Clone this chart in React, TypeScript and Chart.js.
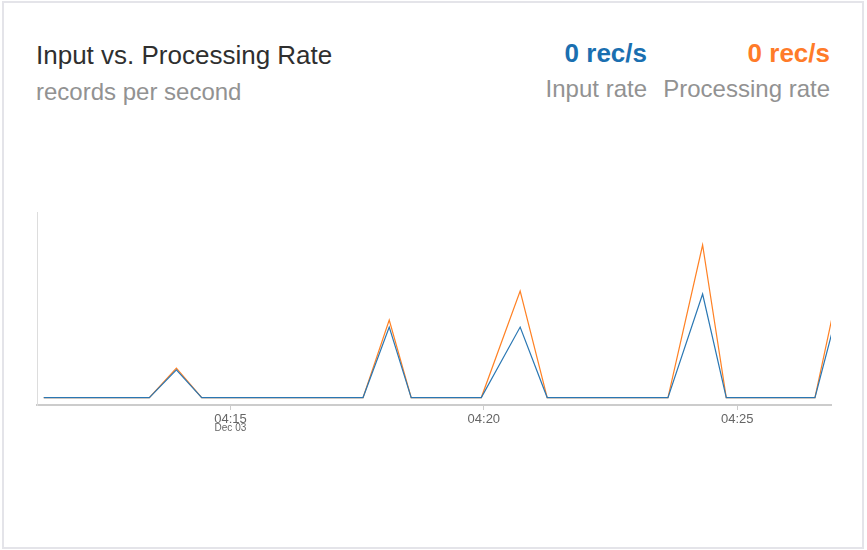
import React, { useEffect, useRef } from "react";
import { Chart, registerables } from "chart.js";

Chart.register(...registerables);

// ---- data ----
const timeLabels = [
  "04:11:19", "04:13:24", "04:13:56", "04:14:26", "04:17:37", "04:18:08", "04:18:34",
  "04:19:57", "04:20:43", "04:21:15", "04:23:38", "04:24:19", "04:24:47", "04:26:32", "04:27:03",
];
const inputRate = [0, 0, 14.9, 0, 0, 38.0, 0, 0, 38.0, 0, 0, 55.8, 0, 0, 53.8];
const processingRate = [0, 0, 15.9, 0, 0, 41.8, 0, 0, 57.4, 0, 0, 82.2, 0, 0, 66.0];
const tickLabels = ["04:15", "04:20", "04:25"];
const dateLabel = "Dec 03";
const xRange = ["04:11:11", "04:26:51"];
const yRange = [-4, 100];

const FONT = "'Liberation Sans', Arial, Helvetica, sans-serif";
const BLUE = "#2a77b3";
const ORANGE = "#ff8124";

function toMin(s: string): number {
  const p = s.split(":").map(Number);
  return p[0] * 60 + p[1] + (p[2] || 0) / 60;
}
function fmt(v: number): string {
  const total = Math.round(v);
  const h = Math.floor(total / 60);
  const m = total % 60;
  return String(h).padStart(2, "0") + ":" + String(m).padStart(2, "0");
}

const datePlugin = {
  id: "dateLabel",
  afterDraw(chart: any) {
    const xs = chart.scales.x;
    const ctx = chart.ctx;
    const x = xs.getPixelForValue(toMin(tickLabels[0]));
    ctx.save();
    ctx.font = "10px " + FONT;
    ctx.fillStyle = "#666";
    ctx.textAlign = "center";
    ctx.textBaseline = "alphabetic";
    ctx.fillText(dateLabel, x, xs.top + 26);
    ctx.restore();
  },
};

export default function App() {
  const ref = useRef<HTMLCanvasElement>(null);
  useEffect(() => {
    if (!ref.current) return;
    const xs = timeLabels.map(toMin);
    const chart = new Chart(ref.current, {
      type: "line",
      data: {
        datasets: [
          {
            label: "Input rate",
            data: xs.map((x, i) => ({ x, y: inputRate[i] })),
            borderColor: BLUE,
            borderWidth: 1.2,
            pointRadius: 0,
            tension: 0,
            fill: false,
          },
          {
            label: "Processing rate",
            data: xs.map((x, i) => ({ x, y: processingRate[i] })),
            borderColor: ORANGE,
            borderWidth: 1.2,
            pointRadius: 0,
            tension: 0,
            fill: false,
          },
        ],
      },
      options: {
        responsive: false,
        animation: false,
        layout: { padding: { left: 37, top: 212, right: 36, bottom: 105 } },
        plugins: { legend: { display: false }, tooltip: { enabled: false } },
        scales: {
          x: {
            type: "linear",
            min: toMin(xRange[0]),
            max: toMin(xRange[1]),
            afterBuildTicks: (s: any) => {
              s.ticks = tickLabels.map((l) => ({ value: toMin(l) }));
            },
            afterFit: (s: any) => {
              s.height = 40;
            },
            grid: {
              display: true,
              drawOnChartArea: false,
              drawTicks: true,
              tickLength: 5,
              tickColor: "#cccccc",
            },
            border: { display: true, color: "#cccccc", width: 2 },
            ticks: {
              autoSkip: false,
              maxRotation: 0,
              padding: 2,
              color: "#666666",
              font: { family: FONT, size: 13 },
              callback: (v: any) => fmt(Number(v)),
            },
          },
          y: {
            min: yRange[0],
            max: yRange[1],
            afterFit: (s: any) => {
              s.width = 0;
            },
            grid: { display: false },
            border: { display: true, color: "#dddddd", width: 1 },
            ticks: { display: false },
          },
        },
      },
      plugins: [datePlugin],
    });
    return () => chart.destroy();
  }, []);

  return (
    <div style={{ position: "absolute", left: 0, top: 0, width: 867, height: 550, background: "#fff", fontFamily: FONT }}>
      <div
        style={{
          position: "absolute",
          left: 2,
          top: 1,
          width: 858,
          height: 544,
          border: "2px solid #e4e4e9",
        }}
      />
      <div style={{ position: "absolute", left: 36, top: 42, fontSize: 26, lineHeight: "26px", color: "#2f2f2f", whiteSpace: "nowrap" }}>
        Input vs. Processing Rate
      </div>
      <div style={{ position: "absolute", left: 36, top: 80, fontSize: 24, lineHeight: "24px", color: "#929292", whiteSpace: "nowrap" }}>
        records per second
      </div>
      <div style={{ position: "absolute", right: 867 - 647, top: 39.5, fontSize: 26, lineHeight: "26px", fontWeight: "bold", color: "#1a6fb0", whiteSpace: "nowrap" }}>
        0 rec/s
      </div>
      <div style={{ position: "absolute", right: 867 - 830, top: 39.5, fontSize: 26, lineHeight: "26px", fontWeight: "bold", color: "#ff7b29", whiteSpace: "nowrap" }}>
        0 rec/s
      </div>
      <div style={{ position: "absolute", right: 867 - 647, top: 76.5, fontSize: 24, lineHeight: "24px", color: "#929292", whiteSpace: "nowrap" }}>
        Input rate
      </div>
      <div style={{ position: "absolute", right: 867 - 830, top: 76.5, fontSize: 24, lineHeight: "24px", color: "#929292", whiteSpace: "nowrap" }}>
        Processing rate
      </div>
      <canvas ref={ref} width={867} height={550} style={{ position: "absolute", left: 0, top: 0, width: 867, height: 550 }} />
    </div>
  );
}
